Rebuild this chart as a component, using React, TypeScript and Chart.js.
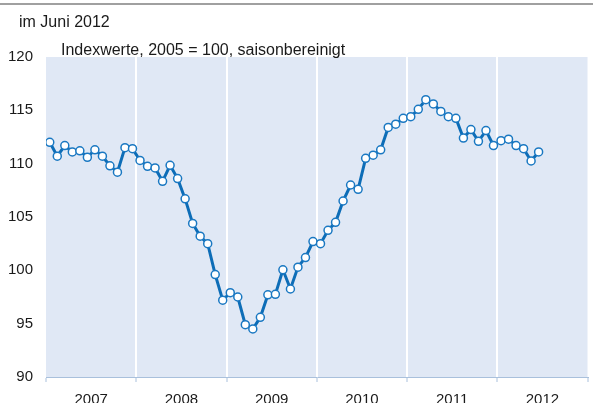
import React, { useEffect, useRef } from "react";
import { Chart, registerables } from "chart.js";

Chart.register(...registerables);

const years = ["2007", "2008", "2009", "2010", "2011", "2012"];
const values2007 = [112.0, 110.7, 111.7, 111.1, 111.2, 110.6, 111.3, 110.7, 109.8, 109.2, 111.5, 111.4];
const values2008 = [110.3, 109.75, 109.6, 108.35, 109.85, 108.6, 106.7, 104.4, 103.2, 102.5, 99.6, 97.2];
const values2009 = [97.9, 97.5, 94.9, 94.5, 95.6, 97.7, 97.75, 100.05, 98.25, 100.3, 101.2, 102.7];
const values2010 = [102.5, 103.75, 104.5, 106.5, 108.0, 107.6, 110.5, 110.8, 111.3, 113.4, 113.7, 114.25];
const values2011 = [114.4, 115.1, 116.0, 115.6, 114.9, 114.4, 114.25, 112.4, 113.2, 112.1, 113.1, 111.7];
const values2012 = [112.15, 112.3, 111.7, 111.4, 110.25, 111.1];
const yTicks = [90, 95, 100, 105, 110, 115, 120];
const headline = "im Juni 2012";
const subline = "Indexwerte, 2005 = 100, saisonbereinigt";

const FONT = '"Liberation Sans", Arial, sans-serif';
const BAND = "#e0e8f5";
const AXIS = "#a9c0dc";

export default function App() {
  const ref = useRef<HTMLCanvasElement | null>(null);

  useEffect(() => {
    if (!ref.current) return;
    const all = [...values2007, ...values2008, ...values2009, ...values2010, ...values2011, ...values2012];
    const points = all.map((v, i) => ({ x: i + 0.5, y: v }));
    const monthsTotal = years.length * 12;

    const decor = {
      id: "decor",
      beforeDraw(chart: any) {
        const { ctx, chartArea } = chart;
        ctx.save();
        ctx.fillStyle = BAND;
        ctx.fillRect(chartArea.left, chartArea.top, chartArea.right - chartArea.left, chartArea.bottom - chartArea.top);
        ctx.restore();
      },
      afterDraw(chart: any) {
        const { ctx } = chart;
        ctx.save();
        ctx.strokeStyle = "#808080";
        ctx.lineWidth = 1.5;
        ctx.beginPath();
        ctx.moveTo(0, 4);
        ctx.lineTo(chart.width, 4);
        ctx.stroke();
        ctx.fillStyle = "#1a1a1a";
        ctx.font = "16px " + FONT;
        ctx.textBaseline = "alphabetic";
        ctx.textAlign = "left";
        ctx.fillText(headline, 19, 27);
        ctx.fillText(subline, 61, 55);
        ctx.restore();
      },
    };

    const chart = new Chart(ref.current, {
      type: "line",
      data: {
        datasets: [
          {
            data: points,
            borderColor: "#0d6db7",
            borderWidth: 3,
            tension: 0,
            pointRadius: 4,
            pointBorderWidth: 1.5,
            pointBackgroundColor: "#ffffff",
            pointBorderColor: "#1a78c2",
          },
        ],
      },
      options: {
        animation: false,
        responsive: false,
        layout: { padding: { top: 57, right: 2, left: 0, bottom: 0 } },
        plugins: { legend: { display: false }, tooltip: { enabled: false }, title: { display: false } },
        scales: {
          x: {
            type: "linear",
            min: 0,
            max: monthsTotal,
            afterFit: (s: any) => {
              s.height = 26;
              s.paddingLeft = 0;
              s.paddingRight = 0;
            },
            afterBuildTicks: (s: any) => {
              const t = [];
              for (let v = 0; v <= monthsTotal; v += 6) t.push({ value: v });
              s.ticks = t;
            },
            ticks: {
              autoSkip: false,
              maxRotation: 0,
              padding: 9,
              color: "#1a1a1a",
              font: { family: FONT, size: 15 },
              callback: (v: any) => {
                const n = Number(v);
                if (n % 12 === 6) return years[(n - 6) / 12];
                return "";
              },
            },
            grid: {
              drawOnChartArea: true,
              drawTicks: true,
              tickLength: 5,
              tickWidth: 1,
              lineWidth: 2,
              color: (c: any) => {
                const v = c.tick ? c.tick.value : -1;
                return v % 12 === 0 && v > 0 && v < monthsTotal ? "#ffffff" : "rgba(0,0,0,0)";
              },
              tickColor: (c: any) => {
                const v = c.tick ? c.tick.value : -1;
                return v % 12 === 0 ? AXIS : "rgba(0,0,0,0)";
              },
            },
            border: { display: true, color: AXIS, width: 1 },
          },
          y: {
            min: 90,
            max: 120,
            afterFit: (s: any) => {
              s.width = 46;
              s.paddingTop = 0;
              s.paddingBottom = 0;
            },
            afterBuildTicks: (s: any) => {
              s.ticks = yTicks.map((v) => ({ value: v }));
            },
            ticks: {
              padding: 13,
              color: "#1a1a1a",
              font: { family: FONT, size: 15 },
            },
            grid: { display: false, drawTicks: false },
            border: { display: false },
          },
        },
      },
      plugins: [decor],
    } as any);

    return () => chart.destroy();
  }, []);

  return (
    <div style={{ position: "absolute", left: 0, top: 0, width: 593, height: 403 }}>
      <canvas ref={ref} width={593} height={403} style={{ width: 593, height: 403 }} />
    </div>
  );
}
